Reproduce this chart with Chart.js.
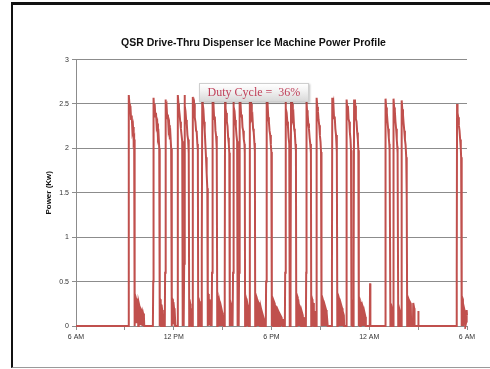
<!DOCTYPE html>
<html>
<head>
<meta charset="utf-8">
<script src="https://cdn.jsdelivr.net/npm/chart.js@4/dist/chart.umd.min.js"></script>
<style>
  html, body { margin: 0; padding: 0; background: #fff; }
  #wrap { position: relative; width: 490px; height: 369px; overflow: hidden; }
  #chart { position: absolute; left: 0; top: 0; }
  #frame {
    position: absolute; left: 11px; top: 2px; width: 479px; height: 362px;
    border-left: 2px solid #111; border-top: 3px solid #111; border-bottom: 1px solid #9a9a9a;
    pointer-events: none;
  }
  #duty {
    position: absolute; left: 199px; top: 83px; width: 108px; height: 17px;
    background: linear-gradient(#ffffff, #f2f2f2 40%, #d9d9d9);
    border: 1px solid #cfcfcf; box-shadow: 1px 1px 2px rgba(0,0,0,0.25);
    font-family: "Liberation Serif", "DejaVu Serif", serif; font-size: 12px;
    color: #c0405a; text-align: center; line-height: 17px; white-space: pre;
  }
</style>
</head>
<body>
<div id="wrap">
  <canvas id="chart" width="490" height="369"></canvas>
  <div id="frame"></div>
  <div id="duty">Duty Cycle =  36%</div>
</div>
<script>
// Power readings as [hour of day, kW]; hours past 24 run into the next morning.
const morningCycles = [
  [6.00,0],[9.21,0],[9.23,0.55],[9.25,2.6],[9.28,2.5],[9.31,2.44],[9.34,2.48],[9.38,2.33],[9.42,2.37],[9.46,2.2],[9.50,2.24],[9.54,2.08],[9.57,2.1],[9.59,1.96],[9.61,0],
  [9.64,0.34],[9.70,0.3],[9.72,0.03],[9.75,0.31],[9.80,0.25],[9.82,0],[9.85,0.26],[9.92,0.2],[9.94,0.02],[9.98,0.19],[10.06,0.16],[10.08,0],[10.12,0.14],[10.17,0.1],[10.19,0],
  [10.72,0],[10.74,0.5],[10.76,2.57],[10.79,2.46],[10.83,2.5],[10.87,2.36],[10.91,2.4],[10.95,2.25],[10.99,2.28],[11.03,2.12],[11.07,2.15],[11.11,2.0],[11.14,0],
  [11.16,0.3],[11.20,0.27],[11.22,0],[11.25,0.24],[11.29,0.18],[11.31,0],[11.34,0.15],[11.37,0],
  [11.45,0],[11.47,0.6],[11.49,2.55],[11.52,2.45],[11.56,2.48],[11.60,2.34],[11.64,2.38],[11.68,2.22],[11.72,2.26],[11.76,2.1],[11.80,2.14],[11.84,2.0],[11.87,0],
  [11.89,0.32],[11.93,0.3],[11.95,0.02],[11.98,0.27],[12.02,0.2],[12.04,0],[12.07,0.18],[12.10,0],
  [12.22,0],[12.24,0.5],[12.26,2.6],[12.29,2.5],[12.32,2.45],[12.36,2.38],[12.40,2.3],[12.44,2.22],[12.48,2.15],[12.52,2.08],[12.55,0],[12.57,0.26],[12.60,0],
  [12.62,0],[12.64,0.7],[12.66,2.6],[12.69,2.48],[12.72,2.42],[12.76,2.32],[12.80,2.28],[12.84,2.15],[12.88,2.1],[12.92,1.95],[12.95,0],
  [12.97,0.3],[13.01,0.25],[13.03,0],[13.06,0.2],[13.10,0.15],[13.12,0]
];

const afternoonCycles = [
  [13.14,0],[13.16,0.6],[13.18,2.58],[13.21,2.47],[13.25,2.5],[13.29,2.35],[13.33,2.3],[13.37,2.2],[13.41,2.18],[13.45,2.05],[13.48,1.98],[13.50,0],
  [13.52,0.32],[13.56,0.28],[13.58,0],[13.61,0.25],[13.65,0.2],[13.67,0],[13.70,0],
  [13.71,0],[13.73,0.8],[13.75,2.62],[13.78,2.5],[13.82,2.44],[13.86,2.3],[13.90,2.2],[13.94,2.05],[13.98,1.9],[14.02,1.72],[14.06,1.55],[14.09,0],
  [14.11,0.36],[14.15,0.34],[14.17,0.02],[14.20,0.3],[14.24,0.26],[14.26,0],[14.29,0.2],[14.32,0],
  [14.33,0],[14.35,0.6],[14.37,2.58],[14.40,2.46],[14.44,2.49],[14.48,2.33],[14.52,2.36],[14.56,2.2],[14.60,2.14],[14.64,2.0],[14.67,0],
  [14.69,0.33],[14.74,0.3],[14.76,0],[14.80,0.28],[14.86,0.22],[14.88,0],[14.92,0.2],[14.98,0.15],[15.00,0],[15.04,0.12],[15.08,0],
  [15.11,0],[15.13,0.5],[15.15,2.56],[15.18,2.45],[15.22,2.4],[15.26,2.3],[15.30,2.25],[15.34,2.12],[15.38,2.05],[15.41,1.95],[15.43,0],
  [15.45,0.3],[15.49,0.26],[15.51,0],[15.54,0.22],[15.58,0.16],[15.60,0],
  [15.62,0],[15.64,0.6],[15.66,2.57],[15.69,2.47],[15.73,2.42],[15.77,2.32],[15.81,2.25],[15.85,2.15],[15.89,2.08],[15.91,1.96],[15.93,0],[15.95,0.28],[15.98,0],
  [15.99,0],[16.01,0.6],[16.03,2.58],[16.06,2.48],[16.10,2.5],[16.14,2.36],[16.18,2.38],[16.22,2.24],[16.26,2.2],[16.30,2.1],[16.34,2.05],[16.36,1.95],[16.38,0],
  [16.40,0.34],[16.44,0.31],[16.46,0],[16.49,0.3],[16.53,0.24],[16.55,0],[16.58,0.2],[16.61,0],
  [16.64,0],[16.66,0.6],[16.68,2.57],[16.71,2.46],[16.75,2.5],[16.79,2.34],[16.83,2.36],[16.87,2.22],[16.91,2.18],[16.95,2.06],[16.98,1.97],[17.00,0],
  [17.02,0.36],[17.07,0.33],[17.09,0],[17.12,0.3],[17.18,0.27],[17.20,0],[17.23,0.26],[17.29,0.22],[17.31,0],[17.35,0.2],[17.41,0.15],[17.43,0],[17.47,0.12],[17.53,0.08],[17.55,0],
  [17.65,0],[17.67,0.5],[17.69,2.58],[17.72,2.47],[17.76,2.5],[17.80,2.35],[17.84,2.3],[17.88,2.2],[17.92,2.15],[17.96,2.04],[17.99,1.96],[18.01,0],
  [18.03,0.32],[18.08,0.29],[18.10,0],[18.14,0.28],[18.20,0.25],[18.22,0],[18.26,0.22],[18.33,0.2],[18.35,0],[18.39,0.18],[18.46,0.15],[18.48,0],[18.52,0.13],[18.60,0.1],[18.62,0],[18.66,0.08],[18.70,0]
];

const eveningCycles = [
  [18.82,0],[18.84,0.6],[18.86,2.55],[18.89,2.45],[18.93,2.4],[18.97,2.3],[19.01,2.25],[19.05,2.12],[19.09,2.05],[19.11,1.95],[19.13,0],[19.15,0],
  [19.16,0],[19.18,0.5],[19.20,2.56],[19.23,2.46],[19.27,2.5],[19.31,2.34],[19.35,2.37],[19.39,2.22],[19.43,2.18],[19.47,2.05],[19.50,1.97],[19.52,0],
  [19.54,0.36],[19.59,0.33],[19.61,0],[19.64,0.3],[19.69,0.22],[19.71,0],[19.74,0.22],[19.80,0.18],[19.82,0],[19.86,0.16],[19.92,0.12],[19.94,0],[19.98,0.1],[20.04,0],
  [20.11,0],[20.13,0.6],[20.15,2.53],[20.18,2.43],[20.22,2.38],[20.26,2.28],[20.30,2.22],[20.34,2.12],[20.38,2.05],[20.42,1.95],[20.44,0],
  [20.46,0.33],[20.50,0.3],[20.52,0],[20.55,0.26],[20.60,0.2],[20.62,0],[20.65,0.17],[20.70,0],
  [20.74,0],[20.76,0.6],[20.78,2.57],[20.81,2.47],[20.85,2.42],[20.89,2.32],[20.93,2.26],[20.97,2.15],[21.01,2.07],[21.04,1.96],[21.06,0],
  [21.08,0.33],[21.13,0.3],[21.15,0],[21.18,0.28],[21.24,0.24],[21.26,0],[21.29,0.22],[21.35,0.18],[21.37,0],[21.40,0.15],[21.45,0],
  [21.69,0],[21.71,0.6],[21.73,2.57],[21.76,2.46],[21.80,2.5],[21.84,2.34],[21.88,2.36],[21.92,2.22],[21.96,2.15],[22.00,2.04],[22.02,1.96],[22.04,0],
  [22.06,0.35],[22.11,0.32],[22.13,0],[22.16,0.3],[22.22,0.26],[22.24,0],[22.27,0.24],[22.33,0.2],[22.35,0],[22.38,0.17],[22.44,0.12],[22.46,0],
  [22.58,0],[22.60,0.6],[22.62,2.55],[22.65,2.45],[22.69,2.48],[22.73,2.33],[22.77,2.3],[22.81,2.18],[22.85,2.1],[22.88,1.98],[22.90,0],
  [22.92,0.3],[22.96,0.26],[22.98,0],[23.01,0],
  [23.03,0],[23.05,0.6],[23.07,2.55],[23.10,2.45],[23.14,2.48],[23.18,2.33],[23.22,2.3],[23.26,2.18],[23.30,2.1],[23.33,1.98],[23.35,0],
  [23.37,0.33],[23.42,0.3],[23.44,0],[23.47,0.27],[23.53,0.2],[23.55,0],[23.59,0.22],[23.65,0.18],[23.67,0],[23.71,0.15],[23.77,0.1],[23.79,0],
  [24.03,0],[24.05,0.48],[24.07,0]
];

const overnightCycles = [
  [24.97,0],[24.99,0.6],[25.01,2.56],[25.04,2.46],[25.08,2.4],[25.12,2.3],[25.16,2.22],[25.20,2.12],[25.23,2.05],[25.25,1.98],[25.30,0],
  [25.33,0.25],[25.38,0.2],[25.40,0],[25.44,0],
  [25.46,0],[25.48,0.6],[25.50,2.56],[25.53,2.46],[25.57,2.42],[25.61,2.3],[25.65,2.22],[25.69,2.1],[25.72,2.02],[25.74,1.95],[25.78,0],
  [25.81,0.22],[25.86,0.18],[25.88,0],[25.94,0],
  [25.96,0],[25.98,0.6],[26.00,2.54],[26.03,2.44],[26.07,2.38],[26.11,2.28],[26.15,2.2],[26.19,2.1],[26.23,2.04],[26.27,1.9],[26.30,1.45],[26.33,0],
  [26.36,0.33],[26.42,0.3],[26.44,0],[26.47,0.28],[26.55,0.25],[26.57,0],[26.68,0],[26.70,0.26],[26.76,0.2],[26.78,0],[27.00,0],[27.01,0.17],[27.03,0],
  [29.35,0],[29.37,0.6],[29.39,2.5],[29.42,2.4],[29.46,2.35],[29.50,2.26],[29.54,2.2],[29.58,2.1],[29.62,2.0],[29.64,1.9],[29.66,0],
  [29.69,0.34],[29.75,0.3],[29.77,0],[29.82,0.2],[29.88,0.15],[29.90,0],[29.96,0.05],[29.98,0.18],[30.00,0.12]
];

// Axis labels: one every six hours, starting 6 AM
const tickHours = [6, 12, 18, 24, 30];
const tickLabels = ['6 AM', '12 PM', '6 PM', '12 AM', '6 AM'];
const powerTickLabels = ['0', '0.5', '1', '1.5', '2', '2.5', '3'];

const points = [...morningCycles, ...afternoonCycles, ...eveningCycles, ...overnightCycles]
  .map(([x, y]) => ({ x, y }));

const gridGray = '#8c8c8c';
const labelFont = { family: "'Liberation Sans', Arial, sans-serif", size: 7 };

new Chart(document.getElementById('chart'), {
  type: 'line',
  data: {
    datasets: [{
      data: points,
      borderColor: '#c0504d',
      borderWidth: 2,
      pointRadius: 0,
      tension: 0,
      fill: false,
      clip: 3
    }]
  },
  options: {
    responsive: false,
    animation: false,
    layout: { padding: { left: 40, right: 23, top: 0, bottom: 13 } },
    plugins: {
      legend: { display: false },
      tooltip: { enabled: false },
      title: {
        display: true,
        text: 'QSR Drive-Thru Dispenser Ice Machine Power Profile',
        color: '#111',
        font: { family: "'Liberation Sans', Arial, sans-serif", size: 10.5, weight: 'bold' },
        padding: { top: 37, bottom: 10 }
      }
    },
    scales: {
      x: {
        type: 'linear',
        min: 6, max: 30,
        afterFit: s => { s.height = 30; },
        afterBuildTicks: s => { s.ticks = [6, 9, 12, 15, 18, 21, 24, 27, 30].map(v => ({ value: v })); },
        ticks: {
          autoSkip: false, maxRotation: 0, padding: 3, color: '#333', font: labelFont,
          callback: v => { const i = tickHours.indexOf(v); return i >= 0 ? tickLabels[i] : ''; }
        },
        grid: { drawOnChartArea: false, drawTicks: true, tickLength: 4, color: gridGray },
        border: { color: gridGray }
      },
      y: {
        min: 0, max: 3,
        afterFit: s => { s.width = 36; },
        ticks: {
          stepSize: 0.5, padding: 3, color: '#333', font: labelFont,
          callback: (v, i) => powerTickLabels[i]
        },
        grid: { color: gridGray, lineWidth: 1, tickLength: 4 },
        border: { color: gridGray },
        title: {
          display: true, text: 'Power (Kw)', color: '#111',
          font: { family: "'Liberation Sans', Arial, sans-serif", size: 8, weight: 'bold' },
          padding: { top: 4, bottom: 0 }
        }
      }
    }
  }
});
</script>
</body>
</html>
